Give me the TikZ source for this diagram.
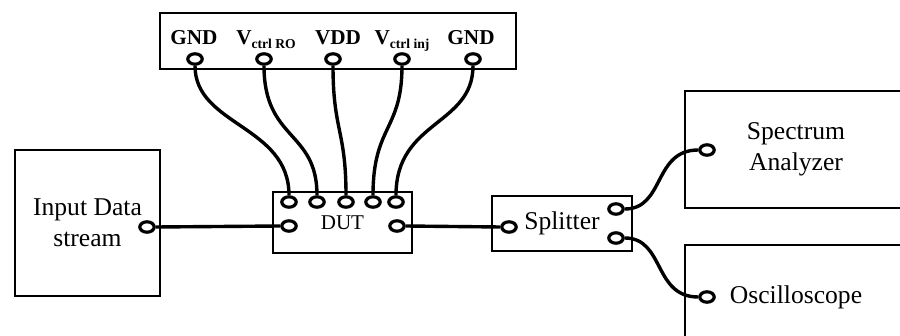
\documentclass[tikz,border=0pt]{standalone}
\usepackage{fontspec}
\setmainfont{Liberation Serif}
\usetikzlibrary{positioning, shapes.geometric}

\newcommand{\pinsub}[1]{\raisebox{-1.7pt}{\fontsize{6.8}{7}\selectfont #1}}

\begin{document}
\begin{tikzpicture}[
  x=0.5pt, y=-0.5pt,
  box/.style={draw, line width=1.1pt, inner sep=0pt, align=center,
              font=\fontsize{12.8}{15.5}\selectfont},
  term/.style={ellipse, draw, fill=white, line width=1.6pt, inner sep=0pt,
               minimum width=7.2pt, minimum height=5.2pt},
  wire/.style={line width=1.7pt},
  pin/.style={anchor=base, inner sep=0pt, font=\bfseries\fontsize{10.6}{12}\selectfont},
]
\useasboundingbox (0,0) rectangle (900,336);

% supply box with its pins
\node[box, minimum width=178pt, minimum height=28pt] (supply) at (338,41) {};
\node[pin] (gndA) at (194,45) {GND};
\node[pin] (vro)  at (266,45) {V\pinsub{ctrl RO}};
\node[pin] (vdd)  at (338,45) {VDD};
\node[pin] (vinj) at (402,45) {V\pinsub{ctrl inj}};
\node[pin] (gndB) at (471,45) {GND};
\node[term] (p1) at (195,59) {};
\node[term] (p2) at (264,59) {};
\node[term] (p3) at (333,59) {};
\node[term] (p4) at (402,59) {};
\node[term] (p5) at (473,59) {};

% source and DUT
\node[box, minimum width=72.5pt, minimum height=73pt] (src) at (87.5,223)
  {Input Data\\stream};
\node[term] (srcout) at (147,227) {};
\node[box, minimum width=69.5pt, minimum height=30.5pt,
      font=\fontsize{10.5}{12}\selectfont] (dut) at (342.5,222.5) {DUT};
\node[term] (d1) at (289,202) {};
\node[term] (d2) at (317,202) {};
\node[term] (d3) at (346,202) {};
\node[term] (d4) at (373,202) {};
\node[term] (d5) at (396,202) {};
\node[term] (dutin)  at (289,226) {};
\node[term] (dutout) at (397,226) {};

% splitter and instruments
\node[box, minimum width=70pt, minimum height=27.5pt] (split) at (562,223.5) {Splitter};
\node[term] (splin) at (509,227) {};
\node[term] (splA)  at (616,209) {};
\node[term] (splB)  at (616,238) {};
\node[box, minimum width=111pt, minimum height=58.5pt] (sa) at (796,149.5)
  {Spectrum\\Analyzer};
\node[term] (saIn) at (707,150) {};
\node[box, minimum width=111pt, minimum height=52pt] (osc) at (796,297) {Oscilloscope};
\node[term] (oscIn) at (707,297) {};

% wires
\draw[wire] (srcout.east) -- (dutin.west);
\draw[wire] (dutout.east) -- (splin.west);
\draw[wire] (p1.south) .. controls +(0,60) and +(0,-70) .. (d1.north);
\draw[wire] (p2.south) .. controls +(0,75) and +(0,-65) .. (d2.north);
\draw[wire] (p3.south) .. controls +(0,65) and +(0,-65) .. (d3.north);
\draw[wire] (p4.south) .. controls +(0,65) and +(0,-70) .. (d4.north);
\draw[wire] (p5.south) .. controls +(0,60) and +(0,-75) .. (d5.north);
\draw[wire] (splA.east) .. controls +(40,0) and +(-45,0) .. (saIn.west);
\draw[wire] (splB.east) .. controls +(40,0) and +(-45,0) .. (oscIn.west);
\end{tikzpicture}
\end{document}
